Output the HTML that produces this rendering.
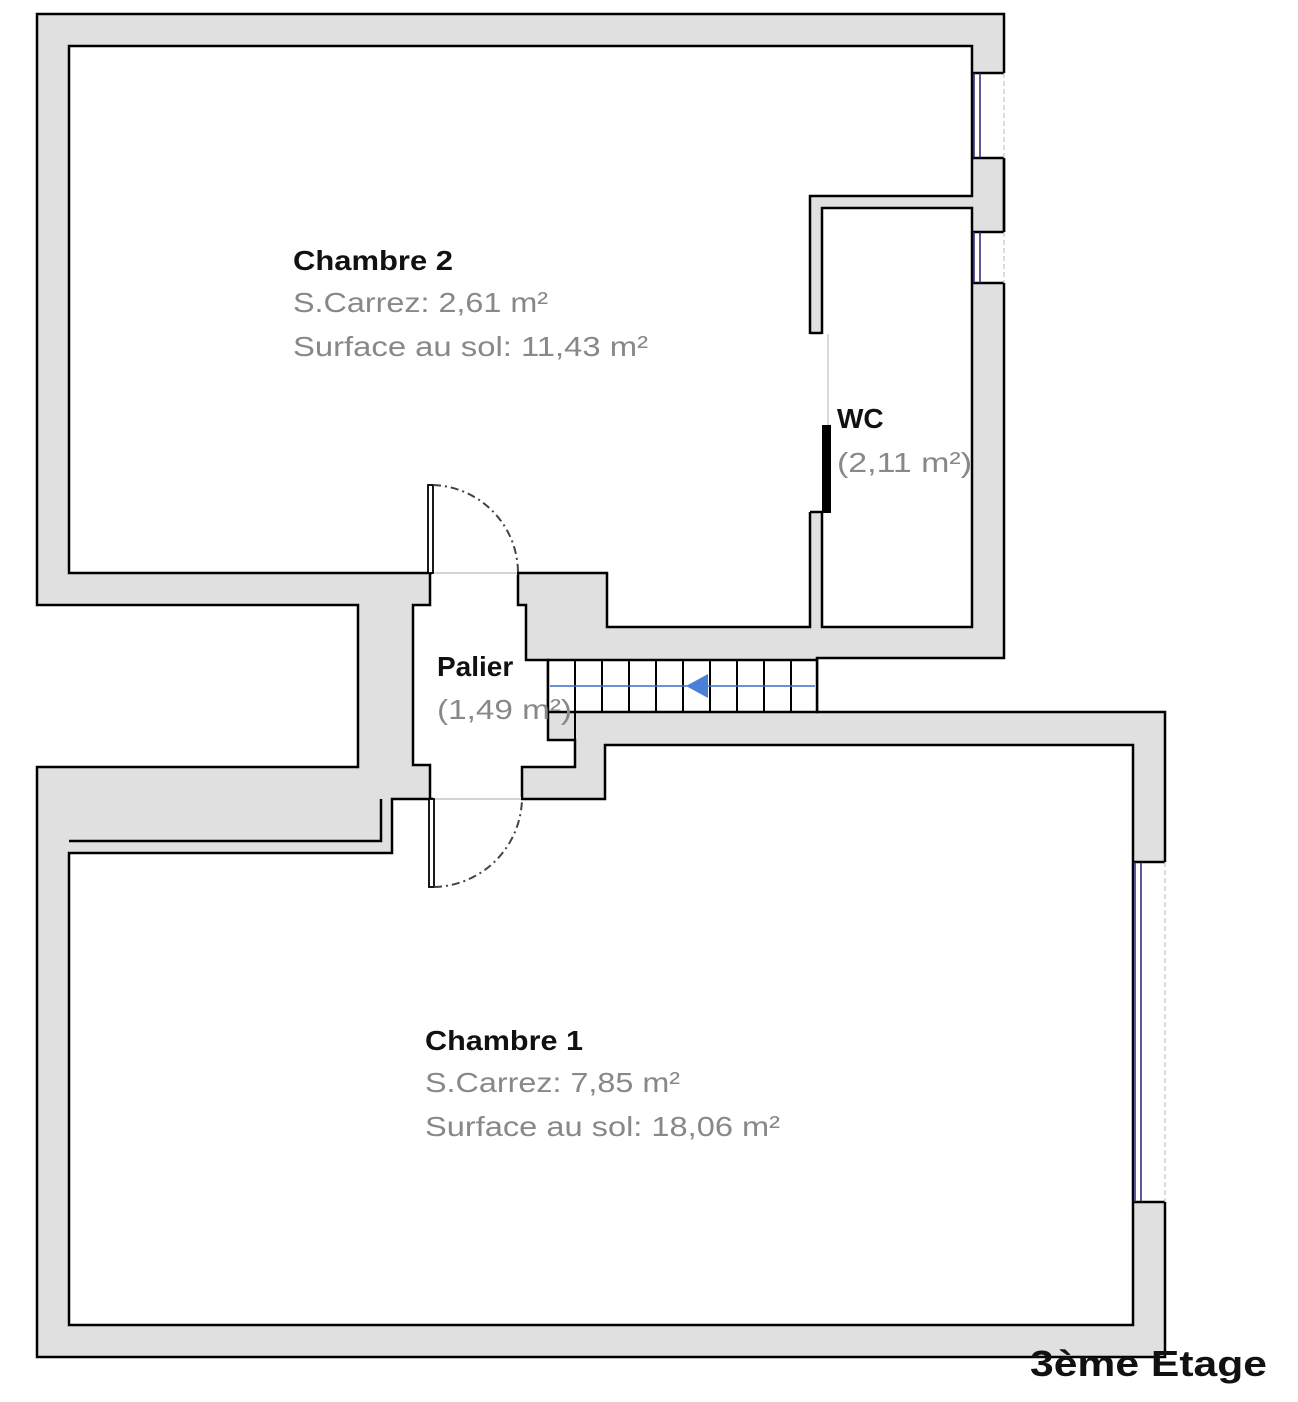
<!DOCTYPE html>
<html><head><meta charset="utf-8"><style>html,body{margin:0;padding:0;background:#fff}svg{display:block}</style></head>
<body>
<svg width="1298" height="1402" viewBox="0 0 1298 1402" xmlns="http://www.w3.org/2000/svg" font-family="Liberation Sans, sans-serif">
<path d="M37,14 H1004 V658 H817 V712 H1165 V1357 H37 V767 H358 V605 H37 Z" fill="#e0e0e0" stroke="#000" stroke-width="2.5"/>
<rect x="973" y="73" width="33" height="85" fill="#fff"/>
<rect x="973" y="232" width="33" height="51" fill="#fff"/>
<g stroke="#000" stroke-width="2.5"><line x1="973" y1="73" x2="1004" y2="73"/><line x1="973" y1="158" x2="1004" y2="158"/><line x1="973" y1="232" x2="1004" y2="232"/><line x1="973" y1="283" x2="1004" y2="283"/><line x1="1004" y1="158" x2="1004" y2="232"/></g>
<g stroke="#bbb" stroke-width="1" stroke-dasharray="5,3"><line x1="1004" y1="73" x2="1004" y2="158"/><line x1="1004" y1="232" x2="1004" y2="283"/></g>
<path d="M69,46 H972 V196 H810 V627 H607 V573 H69 Z" fill="#fff" stroke="#000" stroke-width="2.5"/>
<path d="M822,208 H972 V627 H822 Z" fill="#fff" stroke="#000" stroke-width="2.5"/>
<g stroke="#22227a" stroke-width="1.5"><line x1="974" y1="73" x2="974" y2="158"/><line x1="980" y1="73" x2="980" y2="158"/><line x1="974" y1="232" x2="974" y2="283"/><line x1="980" y1="232" x2="980" y2="283"/></g>
<rect x="808" y="334" width="16" height="178" fill="#fff"/>
<line x1="810" y1="333" x2="822" y2="333" stroke="#000" stroke-width="2.5"/>
<line x1="810" y1="512" x2="822" y2="512" stroke="#000" stroke-width="2.5"/>
<line x1="828" y1="334" x2="828" y2="425" stroke="#ccc" stroke-width="1.5"/>
<rect x="822" y="425" width="9" height="88" fill="#000"/>
<path d="M430,573 H518 V605 H526 V660 H548 V740 H575 V767 H522 V799 H430 V765 H413 V605 H430 Z" fill="#fff" stroke="#000" stroke-width="2.5"/>
<rect x="548" y="660" width="269" height="52" fill="#fff" stroke="#000" stroke-width="2.5"/>
<g stroke="#000" stroke-width="2">
<line x1="575" y1="660" x2="575" y2="740"/><line x1="548" y1="740" x2="575" y2="740"/>
<line x1="602" y1="660" x2="602" y2="712"/><line x1="629" y1="660" x2="629" y2="712"/><line x1="656" y1="660" x2="656" y2="712"/><line x1="683" y1="660" x2="683" y2="712"/><line x1="710" y1="660" x2="710" y2="712"/><line x1="737" y1="660" x2="737" y2="712"/><line x1="764" y1="660" x2="764" y2="712"/><line x1="791" y1="660" x2="791" y2="712"/>
</g>
<line x1="550" y1="686" x2="815" y2="686" stroke="#3a6fcc" stroke-width="1.5"/>
<polygon points="686,686 708,674 708,698" fill="#4a80d8"/>
<path d="M69,853 H392 V799 H605 V745 H1133 V1325 H69 Z" fill="#fff" stroke="#000" stroke-width="2.5"/>
<path d="M69,841 H381 V799" fill="none" stroke="#000" stroke-width="2.5"/>
<!-- door openings -->
<rect x="432" y="571" width="85" height="4" fill="#fff"/>
<line x1="432" y1="573" x2="517" y2="573" stroke="#bbb" stroke-width="1.2"/>
<rect x="433" y="797" width="88" height="4" fill="#fff"/>
<line x1="433" y1="799" x2="521" y2="799" stroke="#bbb" stroke-width="1.2"/>
<rect x="1134" y="862" width="33" height="340" fill="#fff"/>
<g stroke="#000" stroke-width="2.5"><line x1="1133" y1="862" x2="1165" y2="862"/><line x1="1133" y1="1202" x2="1165" y2="1202"/></g>
<g stroke="#22227a" stroke-width="1.5"><line x1="1135" y1="862" x2="1135" y2="1202"/><line x1="1141" y1="862" x2="1141" y2="1202"/></g>
<line x1="1165" y1="862" x2="1165" y2="1202" stroke="#bbb" stroke-width="1" stroke-dasharray="5,3"/>
<rect x="428" y="485" width="5" height="88" fill="#fff" stroke="#000" stroke-width="1.8"/>
<path d="M433,485 A88,88 0 0 1 518,573" fill="none" stroke="#444" stroke-width="2" stroke-dasharray="8,4,2,4"/>
<rect x="429" y="799" width="5" height="88" fill="#fff" stroke="#000" stroke-width="1.8"/>
<path d="M434,887 A90,90 0 0 0 522,799" fill="none" stroke="#444" stroke-width="2" stroke-dasharray="8,4,2,4"/>
<g font-weight="bold" fill="#111" font-size="28">
<text x="293" y="270" textLength="160" lengthAdjust="spacingAndGlyphs">Chambre 2</text>
<text x="837" y="428" font-size="28">WC</text>
<text x="437" y="676" font-size="28">Palier</text>
<text x="425" y="1050" textLength="158" lengthAdjust="spacingAndGlyphs">Chambre 1</text>
<text x="1030" y="1376" font-size="36" textLength="237" lengthAdjust="spacingAndGlyphs">3ème Etage</text>
</g>
<g fill="#888" font-size="28">
<text x="293" y="312" textLength="255" lengthAdjust="spacingAndGlyphs">S.Carrez: 2,61 m²</text>
<text x="293" y="356" textLength="355" lengthAdjust="spacingAndGlyphs">Surface au sol: 11,43 m²</text>
<text x="837" y="472" textLength="135" lengthAdjust="spacingAndGlyphs">(2,11 m²)</text>
<text x="437" y="719" textLength="135" lengthAdjust="spacingAndGlyphs">(1,49 m²)</text>
<text x="425" y="1092" textLength="255" lengthAdjust="spacingAndGlyphs">S.Carrez: 7,85 m²</text>
<text x="425" y="1136" textLength="355" lengthAdjust="spacingAndGlyphs">Surface au sol: 18,06 m²</text>
</g>
</svg>
</body></html>
